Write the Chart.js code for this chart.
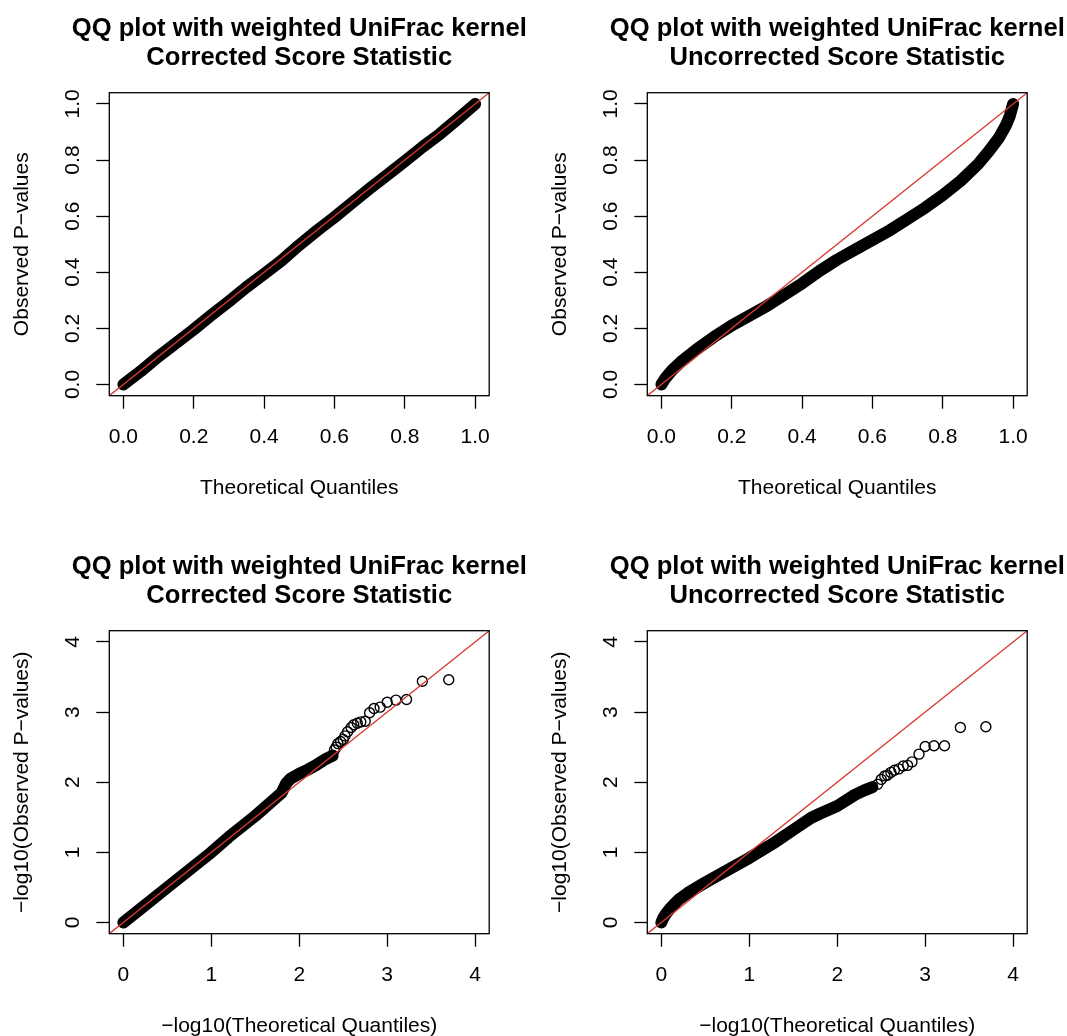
<!DOCTYPE html>
<html>
<head>
<meta charset="utf-8">
<title>QQ plots — weighted UniFrac kernel</title>
<script src="https://cdn.jsdelivr.net/npm/chart.js@4.4.0/dist/chart.umd.min.js"></script>
<style>
  html, body { margin: 0; padding: 0; background: #fff; }
  #page { position: relative; width: 1067px; height: 1036px; overflow: hidden; background: #fff; }
  .panel { position: absolute; width: 538px; height: 538px; }
</style>
</head>
<body>
<div id="page">
  <div class="panel" style="left:0;top:0"><canvas id="qq-p-corr"></canvas></div>
  <div class="panel" style="left:538px;top:0"><canvas id="qq-p-uncorr"></canvas></div>
  <div class="panel" style="left:0;top:538px"><canvas id="qq-log-corr"></canvas></div>
  <div class="panel" style="left:538px;top:538px"><canvas id="qq-log-uncorr"></canvas></div>
</div>
<script>
/* ── 데이터 ── */

// 축 눈금
const pTicks   = [0, 0.2, 0.4, 0.6, 0.8, 1.0];
const logTicks = [0, 1, 2, 3, 4];
const pLim     = [-0.04, 1.04];
const logLim   = [-0.16, 4.16];

// 1) P-value, corrected — 점이 빽빽한 띠
const pCorrX = [0, 0.05, 0.1, 0.15, 0.2, 0.25, 0.3, 0.35, 0.4, 0.45, 0.5, 0.55, 0.6, 0.65, 0.7, 0.75, 0.8, 0.85, 0.9, 0.95, 1];
const pCorrY = [0, 0.048, 0.1, 0.148, 0.196, 0.247, 0.296, 0.347, 0.394, 0.442, 0.497, 0.548, 0.596, 0.647, 0.698, 0.747, 0.796, 0.846, 0.893, 0.946, 1];

// 2) P-value, uncorrected
const pUncX = [0, 0.01, 0.03, 0.055, 0.1, 0.15, 0.2, 0.25, 0.3, 0.35, 0.4, 0.45, 0.5, 0.55, 0.6, 0.65, 0.7, 0.75, 0.8, 0.85, 0.9, 0.93, 0.96, 0.98, 0.99, 1.0];
const pUncY = [0, 0.02, 0.05, 0.08, 0.125, 0.17, 0.21, 0.245, 0.28, 0.32, 0.36, 0.405, 0.445, 0.48, 0.515, 0.55, 0.59, 0.63, 0.675, 0.725, 0.785, 0.83, 0.88, 0.925, 0.955, 1.0];

// 3) -log10, corrected — 띠 + 꼬리의 개별 점
const lCorrBandX = [0, 0.2, 0.5, 0.8, 1.0, 1.2, 1.5, 1.7, 1.8, 1.85, 1.9, 2.0, 2.1, 2.2, 2.3, 2.38];
const lCorrBandY = [0, 0.2, 0.5, 0.8, 1.0, 1.22, 1.52, 1.74, 1.85, 1.98, 2.05, 2.12, 2.18, 2.25, 2.33, 2.38];
const lCorrTailX = [3.70, 3.40, 3.22, 3.10, 3.00, 2.92, 2.85, 2.80, 2.75, 2.70, 2.66, 2.62, 2.59, 2.55, 2.52, 2.50, 2.47, 2.44, 2.42, 2.40];
const lCorrTailY = [3.46, 3.44, 3.18, 3.17, 3.14, 3.07, 3.05, 2.99, 2.87, 2.86, 2.84, 2.82, 2.78, 2.72, 2.66, 2.61, 2.58, 2.55, 2.50, 2.46];

// 4) -log10, uncorrected
const lUncBandX = [0, 0.02, 0.05, 0.1, 0.2, 0.3, 0.5, 0.8, 1.0, 1.3, 1.5, 1.7, 1.8, 2.0, 2.2, 2.3, 2.4];
const lUncBandY = [0, 0.06, 0.12, 0.2, 0.33, 0.42, 0.57, 0.78, 0.92, 1.15, 1.32, 1.49, 1.55, 1.66, 1.82, 1.88, 1.93];
const lUncTailX = [3.69, 3.40, 3.22, 3.10, 3.00, 2.93, 2.85, 2.80, 2.75, 2.70, 2.65, 2.61, 2.57, 2.54, 2.50, 2.46];
const lUncTailY = [2.79, 2.78, 2.52, 2.52, 2.51, 2.40, 2.29, 2.24, 2.23, 2.19, 2.17, 2.14, 2.10, 2.09, 2.04, 1.97];

const TITLE_TOP  = 'QQ plot with weighted UniFrac kernel';
const SUB_CORR   = 'Corrected Score Statistic';
const SUB_UNCORR = 'Uncorrected Score Statistic';

/* ── 공통 스타일 ── */
const FONT    = "'Liberation Sans', Arial, Helvetica, sans-serif";
const RED     = 'rgb(214,58,48)';
const BAND_W  = 12;

const zip = (xs, ys) => xs.map((x, i) => ({ x, y: ys[i] }));

/* ── R base graphics 흉내: 박스, 제목, 회전된 눈금 글자 ── */
const rFrame = {
  id: 'rFrame',
  afterDraw(chart, args, o) {
    const { ctx, chartArea: a, scales: { x, y } } = chart;
    const cx = (a.left + a.right) / 2;
    const cy = (a.top + a.bottom) / 2;
    ctx.save();
    ctx.strokeStyle = '#000';
    ctx.lineWidth = 1.3;
    ctx.strokeRect(a.left, a.top, a.right - a.left, a.bottom - a.top);

    ctx.fillStyle = '#000';
    ctx.textAlign = 'center';
    ctx.textBaseline = 'alphabetic';

    ctx.font = `bold 25.6px ${FONT}`;
    ctx.fillText(o.title[0], cx, a.top - 57.2);
    ctx.fillText(o.title[1], cx, a.top - 27.9);

    ctx.font = `21px ${FONT}`;
    x.ticks.forEach(t => ctx.fillText(o.fmt(t.value), x.getPixelForValue(t.value), a.bottom + 47.3));
    ctx.fillText(o.xLabel, cx, a.bottom + 97.8);

    y.ticks.forEach(t => {
      ctx.save();
      ctx.translate(a.left - 30, y.getPixelForValue(t.value));
      ctx.rotate(-Math.PI / 2);
      ctx.fillText(o.fmt(t.value), 0, 0);
      ctx.restore();
    });
    ctx.save();
    ctx.translate(a.left - 81, cy);
    ctx.rotate(-Math.PI / 2);
    ctx.fillText(o.yLabel, 0, 0);
    ctx.restore();
    ctx.restore();
  }
};

function axis(lim, ticks) {
  return {
    type: 'linear',
    min: lim[0],
    max: lim[1],
    afterBuildTicks: s => { s.ticks = ticks.map(v => ({ value: v })); },
    ticks: { display: false },
    border: { display: false },
    grid: { drawOnChartArea: false, drawTicks: true, tickLength: 13, tickColor: '#000', tickWidth: 1.3 }
  };
}

function qqChart(id, cfg) {
  const datasets = [
    {
      // 기준선 y = x (abline(0,1))
      data: zip(cfg.lim, cfg.lim),
      showLine: true,
      borderColor: RED,
      borderWidth: 1.3,
      pointRadius: 0
    },
    {
      data: zip(cfg.bandX, cfg.bandY),
      showLine: true,
      borderColor: '#000',
      borderWidth: BAND_W,
      borderCapStyle: 'round',
      borderJoinStyle: 'round',
      tension: 0,
      pointRadius: 0
    }
  ];
  if (cfg.tailX) {
    datasets.push({
      data: zip(cfg.tailX, cfg.tailY),
      showLine: false,
      pointStyle: 'circle',
      pointRadius: 5,
      pointBorderWidth: 1.4,
      pointBorderColor: '#000',
      pointBackgroundColor: 'rgba(0,0,0,0)'
    });
  }

  const xs = axis(cfg.lim, cfg.ticks);
  const ys = axis(cfg.lim, cfg.ticks);
  xs.afterFit = s => { s.height = 142.3; };
  ys.afterFit = s => { s.width = 109.3; };

  new Chart(document.getElementById(id), {
    type: 'scatter',
    data: { datasets },
    options: {
      responsive: true,
      maintainAspectRatio: false,
      animation: false,
      events: [],
      layout: { padding: { top: 92.7, right: 48.8, bottom: 0, left: 0 } },
      plugins: {
        legend: { display: false },
        tooltip: { enabled: false },
        rFrame: {
          title: [TITLE_TOP, cfg.sub],
          xLabel: cfg.xLabel,
          yLabel: cfg.yLabel,
          fmt: cfg.fmt
        }
      },
      scales: { x: xs, y: ys }
    },
    plugins: [rFrame]
  });
}

/* ── Init ── */
function init() {
  const pFmt   = v => v.toFixed(1);
  const logFmt = v => String(v);

  qqChart('qq-p-corr', {
    sub: SUB_CORR, lim: pLim, ticks: pTicks, fmt: pFmt,
    xLabel: 'Theoretical Quantiles', yLabel: 'Observed P\u2212values',
    bandX: pCorrX, bandY: pCorrY
  });
  qqChart('qq-p-uncorr', {
    sub: SUB_UNCORR, lim: pLim, ticks: pTicks, fmt: pFmt,
    xLabel: 'Theoretical Quantiles', yLabel: 'Observed P\u2212values',
    bandX: pUncX, bandY: pUncY
  });
  qqChart('qq-log-corr', {
    sub: SUB_CORR, lim: logLim, ticks: logTicks, fmt: logFmt,
    xLabel: '\u2212log10(Theoretical Quantiles)', yLabel: '\u2212log10(Observed P\u2212values)',
    bandX: lCorrBandX, bandY: lCorrBandY, tailX: lCorrTailX, tailY: lCorrTailY
  });
  qqChart('qq-log-uncorr', {
    sub: SUB_UNCORR, lim: logLim, ticks: logTicks, fmt: logFmt,
    xLabel: '\u2212log10(Theoretical Quantiles)', yLabel: '\u2212log10(Observed P\u2212values)',
    bandX: lUncBandX, bandY: lUncBandY, tailX: lUncTailX, tailY: lUncTailY
  });
}

document.addEventListener('DOMContentLoaded', init);
</script>
</body>
</html>
